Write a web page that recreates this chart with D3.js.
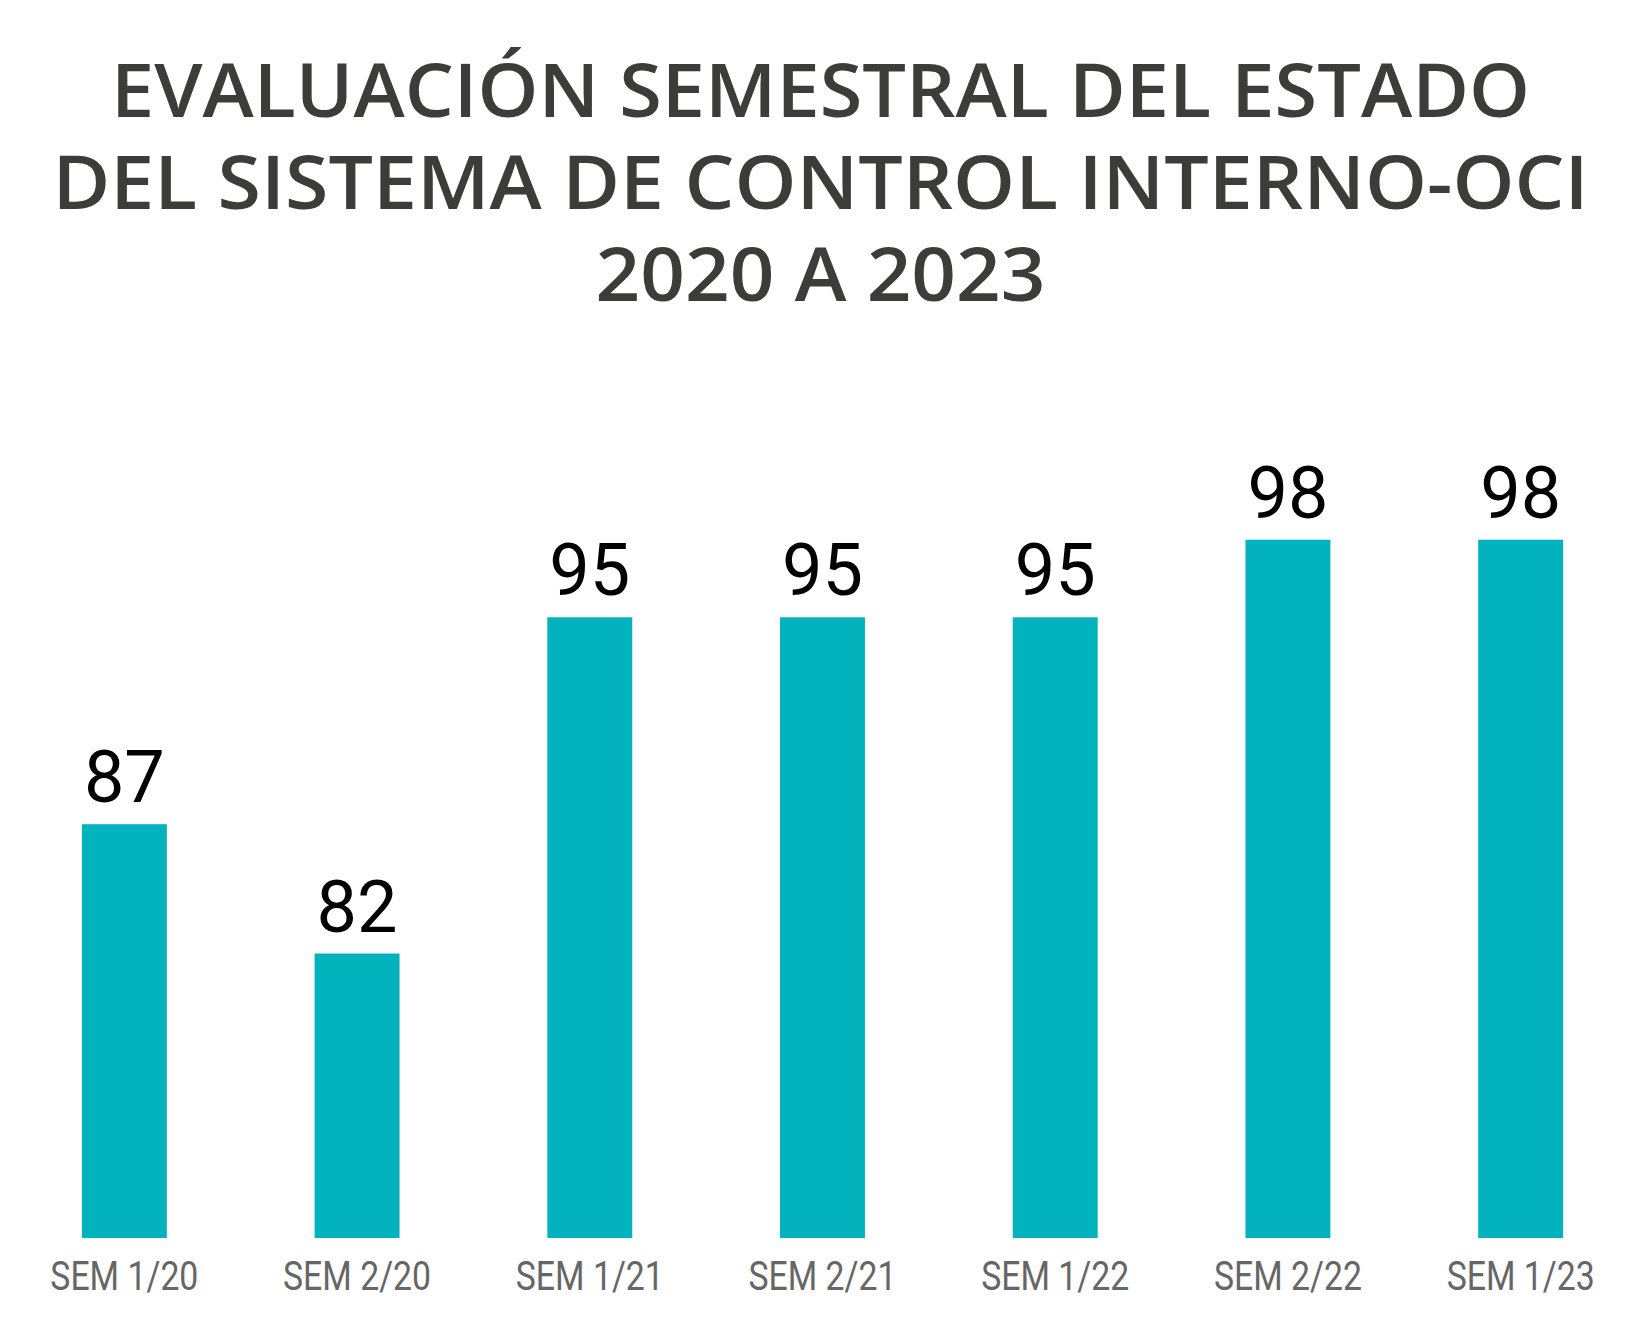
<!DOCTYPE html>
<html>
<head>
<meta charset="utf-8">
<script src="https://cdn.jsdelivr.net/npm/d3@7"></script>
<style>
  html, body { margin: 0; padding: 0; background: #fff; }
  svg { display: block; }
</style>
</head>
<body>
<div id="chart"></div>
<script>
'use strict';

var titleLines = ['EVALUACIÓN SEMESTRAL DEL ESTADO', 'DEL SISTEMA DE CONTROL INTERNO-OCI', '2020 A 2023'];
var categories = ['SEM 1/20', 'SEM 2/20', 'SEM 1/21', 'SEM 2/21', 'SEM 1/22', 'SEM 2/22', 'SEM 1/23'];
var scores = [87, 82, 95, 95, 95, 98, 98];

var width = 1641, height = 1323;
var barColor = '#02b3bd';

var svg = d3.select('#chart').append('svg')
  .attr('width', width)
  .attr('height', height);

// title, three centred lines
var titleWidths = [1419, 1536, 450];
svg.append('g').selectAll('text')
  .data(titleLines)
  .enter().append('text')
  .attr('x', width / 2)
  .attr('y', function(d, i) { return 117 + i * 92; })
  .attr('text-anchor', 'middle')
  .attr('textLength', function(d, i) { return titleWidths[i]; })
  .attr('lengthAdjust', 'spacingAndGlyphs')
  .style('font-family', '"Open Sans", sans-serif')
  .style('font-weight', 600)
  .style('font-size', '74px')
  .style('fill', '#3c3c3b')
  .text(function(d) { return d; });

var x = d3.scaleBand()
  .domain(categories)
  .range([8, 1637])
  .paddingInner(0.635)
  .paddingOuter(0.3175);

// bars do not start at zero in the original
var y = d3.scaleLinear()
  .domain([71, 100])
  .range([1238, 488]);

var bars = svg.append('g');
bars.selectAll('rect')
  .data(scores)
  .enter().append('rect')
  .attr('x', function(d, i) { return x(categories[i]); })
  .attr('y', function(d) { return y(d); })
  .attr('width', x.bandwidth())
  .attr('height', function(d) { return y.range()[0] - y(d); })
  .style('fill', barColor);

bars.selectAll('text.value')
  .data(scores)
  .enter().append('text')
  .attr('class', 'value')
  .attr('x', function(d, i) { return x(categories[i]) + x.bandwidth() / 2; })
  .attr('y', function(d) { return y(d) - 22; })
  .attr('text-anchor', 'middle')
  .style('font-family', 'Roboto, sans-serif')
  .style('font-size', '72px')
  .style('fill', '#000')
  .text(function(d) { return d; });

// category labels under the bars
svg.append('g').selectAll('text')
  .data(categories)
  .enter().append('text')
  .attr('x', function(d) { return x(d) + x.bandwidth() / 2; })
  .attr('y', 1290)
  .attr('text-anchor', 'middle')
  .attr('textLength', 148)
  .attr('lengthAdjust', 'spacingAndGlyphs')
  .style('font-family', 'Roboto, sans-serif')
  .style('font-size', '41px')
  .style('fill', '#666')
  .text(function(d) { return d; });
</script>
</body>
</html>
